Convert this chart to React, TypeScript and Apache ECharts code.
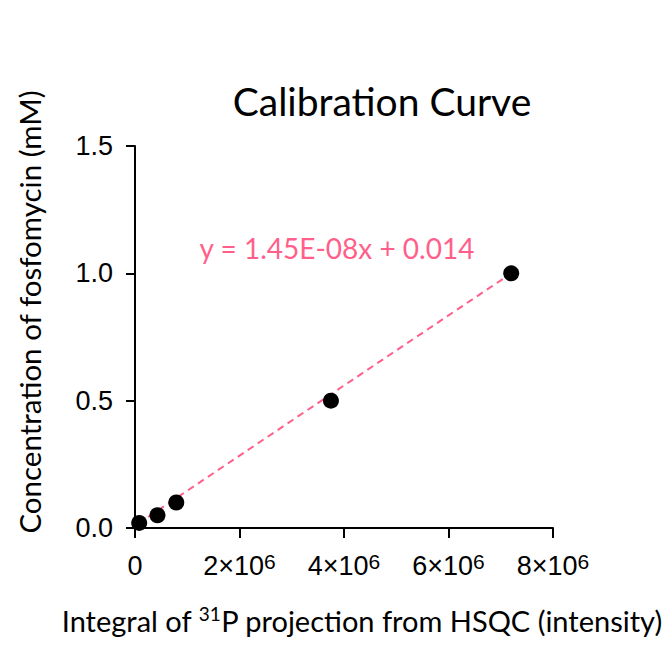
import React, { useEffect, useRef } from "react";
import * as echarts from "echarts";

const intensity = [80000, 430000, 790000, 3750000, 7200000];
const concentration = [0.02, 0.05, 0.1, 0.5, 1.0];
const trendX = [60000, 7200000];
const trendY = [0.017, 1.0];
const xTicks = [0, 2e6, 4e6, 6e6, 8e6];
const yTicks = [0, 0.5, 1.0, 1.5];
const titleText = "Calibration Curve";
const equationText = "y = 1.45E-08x + 0.014";
const xTitleParts = ["Integral of ", "31", "P projection from HSQC (intensity)"];
const yTitleText = "Concentration of fosfomycin (mM)";

const PINK = "#ff5f8a";
const TITLE_FONT = "Lato";
const NUM_FONT = "Liberation Sans";

export default function App() {
  const ref = useRef<HTMLDivElement>(null);
  useEffect(() => {
    if (!ref.current) return;
    const chart = echarts.init(ref.current, null, { renderer: "svg" });
    chart.setOption({
      animation: false,
      backgroundColor: "#fff",
      grid: { left: 135, right: 119, top: 146, bottom: 118 },
      xAxis: {
        type: "value",
        min: xTicks[0],
        max: xTicks[xTicks.length - 1],
        interval: xTicks[1] - xTicks[0],
        splitLine: { show: false },
        axisLine: { show: true, onZero: false, lineStyle: { color: "#000", width: 2 } },
        axisTick: { show: true, length: 10, lineStyle: { color: "#000", width: 2 } },
        axisLabel: {
          margin: 23,
          formatter: (v: number) =>
            v === 0 ? "{b|0}" : `{b|${v / 1e6}×10}{s|6}`,
          rich: {
            b: { fontSize: 27, fontFamily: NUM_FONT, color: "#000", lineHeight: 30 },
            s: { fontSize: 21, fontFamily: NUM_FONT, color: "#000", lineHeight: 18, verticalAlign: "top" },
          },
        },
      },
      yAxis: {
        type: "value",
        min: yTicks[0],
        max: yTicks[yTicks.length - 1],
        interval: yTicks[1] - yTicks[0],
        splitLine: { show: false },
        axisLine: { show: true, lineStyle: { color: "#000", width: 2 } },
        axisTick: { show: true, length: 9, lineStyle: { color: "#000", width: 2 } },
        axisLabel: {
          margin: 22,
          fontSize: 27,
          fontFamily: NUM_FONT,
          color: "#000",
          formatter: (v: number) => v.toFixed(1),
        },
      },
      series: [
        {
          type: "line",
          data: trendX.map((x, i) => [x, trendY[i]]),
          symbol: "none",
          lineStyle: { color: PINK, width: 2, type: [7, 5] },
          z: 1,
        },
        {
          type: "scatter",
          data: intensity.map((x, i) => [x, concentration[i]]),
          symbolSize: 16,
          itemStyle: { color: "#000", opacity: 1 },
          z: 2,
        },
      ],
      graphic: [
        {
          type: "text",
          x: 382,
          y: 101,
          style: {
            text: titleText,
            font: `39px ${TITLE_FONT}`,
            fill: "#000",
            align: "center",
            verticalAlign: "middle",
          },
        },
        {
          type: "text",
          x: 337,
          y: 248,
          style: {
            text: equationText,
            font: `28px ${TITLE_FONT}`,
            fill: PINK,
            align: "center",
            verticalAlign: "middle",
          },
        },
        {
          type: "text",
          x: 362,
          y: 620,
          style: {
            text: `{a|${xTitleParts[0]}}{s|${xTitleParts[1]}}{a|${xTitleParts[2]}}`,
            align: "center",
            verticalAlign: "middle",
            rich: {
              a: { fontSize: 29, fontFamily: TITLE_FONT, fill: "#000", color: "#000", lineHeight: 32 },
              s: { fontSize: 19, fontFamily: TITLE_FONT, fill: "#000", color: "#000", lineHeight: 20, verticalAlign: "top" },
            },
          },
        },
        {
          type: "text",
          x: 29,
          y: 312,
          rotation: Math.PI / 2,
          style: {
            text: yTitleText,
            font: `29.5px ${TITLE_FONT}`,
            fill: "#000",
            align: "center",
            verticalAlign: "middle",
          },
        },
      ],
    });
    return () => chart.dispose();
  }, []);
  return (
    <div
      ref={ref}
      style={{ position: "fixed", left: 0, top: 0, width: 672, height: 646 }}
    />
  );
}
